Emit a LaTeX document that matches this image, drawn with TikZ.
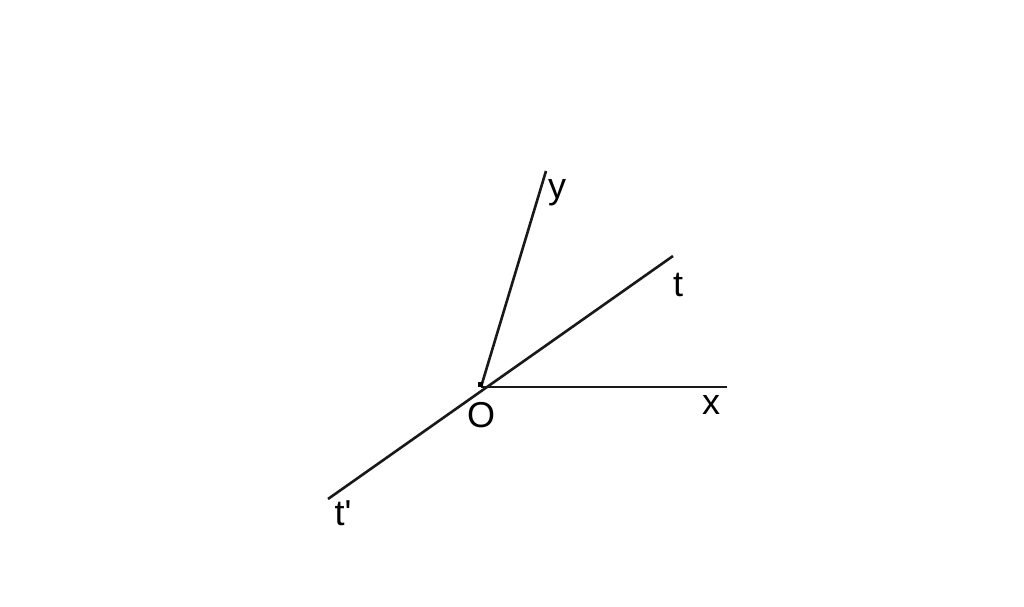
\documentclass[tikz,border=0pt]{standalone}
\usepackage{fontspec}
\newfontfamily\lblfont{Liberation Sans}
\begin{document}
\begin{tikzpicture}[x=0.5pt,y=-0.5pt,
  ray/.style={line width=1.3pt,black!90},
  lbl/.style={font=\lblfont\fontsize{18}{20}\selectfont,inner sep=0pt,anchor=base}]
\useasboundingbox (0,0) rectangle (1024,606);
\coordinate (O) at (481,387);
\coordinate (Y) at (546,171);
\coordinate (T) at (673,256);
\coordinate (X) at (727,387);
\coordinate (T2) at (328,499);
\draw[ray] (O) -- (Y);
\draw[ray] (T2) -- (T);
\draw[ray] (O) -- (X);
\fill (O) ++(-3,-5) rectangle ++(5,5);
\node[lbl] (ly) at (557,198) {y};
\node[lbl] (lt) at (678,296) {t};
\node[lbl] (lx) at (711,414) {x};
\node[lbl] (lO) at (481,427) {O};
\node[lbl] (lt2) at (343,525) {t'};
\end{tikzpicture}
\end{document}
